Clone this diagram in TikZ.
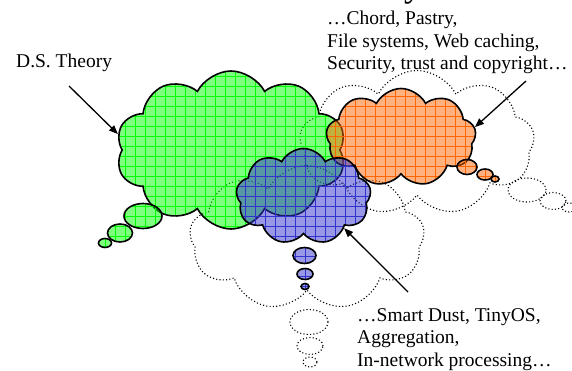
\documentclass[tikz,border=0pt]{standalone}
\usepackage{fontspec}
\setmainfont{Liberation Serif}
\usetikzlibrary{shapes.symbols,shapes.geometric,patterns.meta,arrows.meta}

\definecolor{dsgreen}{RGB}{0,255,0}
\definecolor{pporange}{RGB}{255,102,0}
\definecolor{snblue}{RGB}{50,50,205}

\tikzdeclarepattern{
  name=cloudgrid,
  type=uncolored,
  bounding box={(-1pt,-1pt) and (11pt,11pt)},
  tile size={(10pt,10pt)},
  code={
    \draw[line width=0.6pt] (0pt,5pt) -- (10pt,5pt) (5pt,0pt) -- (5pt,10pt);
  }
}

\begin{document}
\begin{tikzpicture}[x=1pt,y=-1pt,
    puff/.style={draw,line width=1.6pt,inner sep=0pt,
      preaction={fill=#1,fill opacity=0.5},
      preaction={pattern=cloudgrid,pattern color=#1,fill opacity=0.6}},
    ghost/.style={draw,line width=1.1pt,dash pattern=on 1.1pt off 2.2pt,inner sep=0pt},
    think/.style={cloud,cloud puffs=#1,cloud puff arc=125,aspect=1.6},
    blob/.style={ellipse,inner sep=0pt},
    note/.style={font=\fontsize{19.5}{22.6}\selectfont,inner sep=0pt,align=left},
    pointer/.style={line width=1.3pt,-{Triangle[length=9pt,width=7pt]}}]
    \useasboundingbox (0,0) rectangle (572,371);

    % dotted clouds behind
    \node[ghost,think=9,minimum width=235pt,minimum height=145pt] (gpp) at (417,143) {};
    \node[ghost,think=9,minimum width=235pt,minimum height=145pt] (gsn) at (307,238) {};
    \node[ghost,blob,minimum width=38pt,minimum height=24pt] (gpp1) at (527,190) {};
    \node[ghost,blob,minimum width=26pt,minimum height=17pt] (gpp2) at (553,201) {};
    \node[ghost,blob,minimum width=14pt,minimum height=9pt] (gpp3) at (569,207.5) {};
    \node[ghost,blob,minimum width=38pt,minimum height=25pt] (gsn1) at (309,322) {};
    \node[ghost,blob,minimum width=26pt,minimum height=17pt] (gsn2) at (310,346) {};
    \node[ghost,blob,minimum width=14pt,minimum height=10pt] (gsn3) at (310,362) {};

    % coloured clouds
    \node[puff=dsgreen,think=10,minimum width=230pt,minimum height=158pt] (ds) at (231,150) {};
    \node[puff=dsgreen,blob,minimum width=38pt,minimum height=25pt] (ds1) at (143,216) {};
    \node[puff=dsgreen,blob,minimum width=25pt,minimum height=18pt] (ds2) at (120,233) {};
    \node[puff=dsgreen,blob,minimum width=13pt,minimum height=9pt] (ds3) at (105,243) {};

    \node[puff=pporange,think=9,minimum width=150pt,minimum height=98pt] (pp) at (401,137.5) {};
    \node[puff=pporange,blob,minimum width=20pt,minimum height=15pt] (pp1) at (467,167) {};
    \node[puff=pporange,blob,minimum width=16pt,minimum height=11pt] (pp2) at (485,174.5) {};
    \node[puff=pporange,blob,minimum width=8pt,minimum height=6pt] (pp3) at (495,179) {};

    \node[puff=snblue,think=9,minimum width=135pt,minimum height=96pt] (sn) at (303.5,196.5) {};
    \node[puff=snblue,blob,minimum width=23pt,minimum height=16pt] (sn1) at (304.5,255.5) {};
    \node[puff=snblue,blob,minimum width=16pt,minimum height=11pt] (sn2) at (305,274) {};
    \node[puff=snblue,blob,minimum width=8pt,minimum height=6pt] (sn3) at (305,286.5) {};

    % texts
    \node[font=\fontsize{36}{40}\selectfont,inner sep=0pt,anchor=base west] (title) at (404,-3) {y};
    \node[note,anchor=base west] (dslabel) at (16,68) {D.S. Theory};
    \node[note,anchor=north west] (pplabel) at (327,11) {…Chord, Pastry,\\File systems, Web caching,\\Security, trust and copyright…};
    \node[note,anchor=north west] (snlabel) at (357,308) {…Smart Dust, TinyOS,\\Aggregation,\\In-network processing…};

    % arrows
    \coordinate (dstail) at (69,86);
    \coordinate (pptail) at (526,81);
    \coordinate (sntail) at (408,292);
    \draw[pointer] (dstail) -- (ds.172);
    \draw[pointer] (pptail) -- (pp.8);
    \draw[pointer] (sntail) -- (sn.-38);
\end{tikzpicture}
\end{document}
